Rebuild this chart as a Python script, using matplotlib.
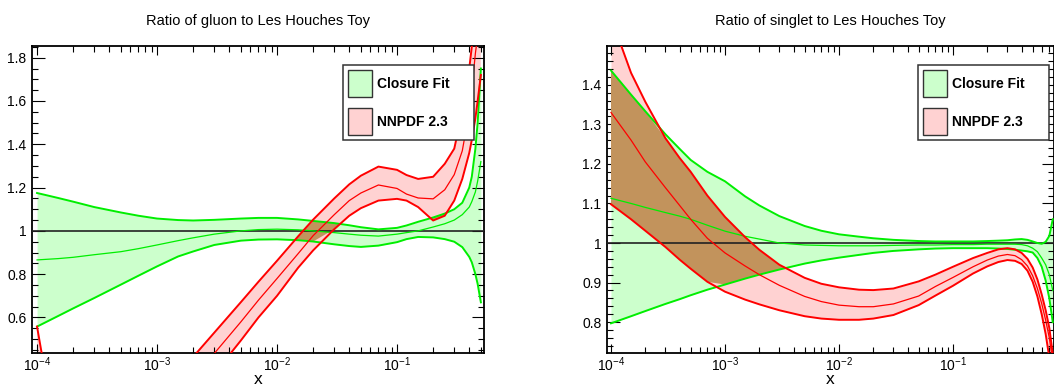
import numpy as np
import matplotlib.pyplot as plt
from matplotlib.patches import Patch
from matplotlib.ticker import MultipleLocator, FuncFormatter, LogLocator

plt.rcParams['font.family'] = ['Liberation Sans', 'DejaVu Sans']
plt.rcParams['mathtext.default'] = 'regular'

# ---- gluon panel data (ratio to Les Houches toy) ----
x_gluon = [1e-4, 1.5e-4, 2e-4, 3e-4, 5e-4, 7e-4, 1e-3, 1.5e-3, 2e-3, 3e-3, 5e-3, 7e-3,
           1e-2, 1.5e-2, 2e-2, 3e-2, 4e-2, 5e-2, 7e-2, 0.1, 0.12, 0.15, 0.2, 0.25, 0.3,
           0.35, 0.4, 0.42, 0.45, 0.47, 0.5]
gluon_fit_up = [1.175, 1.152, 1.135, 1.11, 1.085, 1.07, 1.057, 1.05, 1.048, 1.051, 1.057, 1.06,
                1.06, 1.053, 1.046, 1.036, 1.026, 1.017, 1.007, 1.014, 1.025, 1.042, 1.062, 1.08,
                1.10, 1.13, 1.20, 1.25, 1.38, 1.50, 1.75]
gluon_fit_cv = [0.866, 0.872, 0.878, 0.89, 0.904, 0.918, 0.935, 0.955, 0.968, 0.985, 1.0, 1.006,
                1.008, 1.005, 1.0, 0.992, 0.985, 0.98, 0.976, 0.985, 0.992, 1.0, 1.018, 1.033,
                1.05, 1.075, 1.11, 1.135, 1.18, 1.23, 1.32]
gluon_fit_dn = [0.558, 0.607, 0.642, 0.69, 0.752, 0.793, 0.836, 0.882, 0.905, 0.935, 0.955, 0.96,
                0.961, 0.957, 0.951, 0.938, 0.93, 0.926, 0.932, 0.948, 0.962, 0.972, 0.97, 0.962,
                0.95, 0.925, 0.88, 0.855, 0.80, 0.755, 0.67]
gluon_nn_up = [0.558, 0.0, -0.3, -0.3, -0.3, -0.2, 0.1, 0.3, 0.418, 0.53, 0.671, 0.765,
               0.862, 0.975, 1.052, 1.15, 1.215, 1.255, 1.297, 1.282, 1.258, 1.24, 1.25, 1.31,
               1.38, 1.55, 1.75, 1.85, 1.98, 2.1, 2.2]
gluon_nn_cv = [0.3, -0.1, -0.4, -0.4, -0.4, -0.3, 0.0, 0.2, 0.318, 0.434, 0.58, 0.68,
               0.78, 0.895, 0.978, 1.075, 1.14, 1.175, 1.212, 1.196, 1.17, 1.152, 1.148, 1.19,
               1.26, 1.37, 1.55, 1.65, 1.82, 1.9, 1.95]
gluon_nn_dn = [0.2, -0.2, -0.5, -0.5, -0.5, -0.4, -0.1, 0.1, 0.22, 0.34, 0.494, 0.6,
               0.70, 0.83, 0.91, 1.008, 1.07, 1.105, 1.14, 1.148, 1.14, 1.11, 1.048, 1.07,
               1.14, 1.24, 1.36, 1.42, 1.52, 1.6, 1.72]

# ---- singlet panel data ----
x_singlet = [1e-4, 1.5e-4, 2e-4, 3e-4, 4e-4, 5e-4, 7e-4, 1e-3, 1.5e-3, 2e-3, 3e-3, 5e-3,
             7e-3, 1e-2, 1.5e-2, 2e-2, 3e-2, 5e-2, 7e-2, 0.1, 0.15, 0.2, 0.25, 0.3, 0.35,
             0.4, 0.45, 0.5, 0.55, 0.6, 0.65, 0.7, 0.75]
singlet_fit_up = [1.436, 1.375, 1.333, 1.275, 1.238, 1.21, 1.18, 1.156, 1.118, 1.095, 1.068,
                  1.043, 1.031, 1.022, 1.016, 1.012, 1.008, 1.005, 1.004, 1.004, 1.004, 1.005,
                  1.006, 1.007, 1.009, 1.01, 1.008, 1.004, 1.0, 0.998, 1.003, 1.018, 1.06]
singlet_fit_cv = [1.113, 1.10, 1.09, 1.077, 1.068, 1.06, 1.045, 1.03, 1.017, 1.01, 1.0,
                  0.995, 0.994, 0.993, 0.993, 0.993, 0.994, 0.995, 0.995, 0.996, 0.996, 0.997,
                  0.997, 0.997, 0.997, 0.996, 0.993, 0.987, 0.978, 0.962, 0.945, 0.92, 0.88]
singlet_fit_dn = [0.797, 0.815, 0.828, 0.846, 0.858, 0.868, 0.882, 0.895, 0.91, 0.92, 0.933,
                  0.948, 0.956, 0.963, 0.97, 0.975, 0.98, 0.984, 0.986, 0.987, 0.987, 0.987,
                  0.986, 0.985, 0.983, 0.981, 0.979, 0.976, 0.962, 0.94, 0.905, 0.86, 0.80]
singlet_nn_up = [1.57, 1.43, 1.357, 1.265, 1.215, 1.18, 1.12, 1.066, 1.015, 0.983, 0.945,
                 0.912, 0.897, 0.888, 0.882, 0.881, 0.885, 0.903, 0.92, 0.94, 0.962, 0.975,
                 0.984, 0.987, 0.984, 0.975, 0.96, 0.938, 0.908, 0.87, 0.83, 0.785, 0.72]
singlet_nn_cv = [1.33, 1.26, 1.205, 1.14, 1.095, 1.06, 1.012, 0.975, 0.942, 0.92, 0.893,
                 0.865, 0.852, 0.843, 0.839, 0.839, 0.846, 0.866, 0.89, 0.913, 0.94, 0.957,
                 0.967, 0.971, 0.968, 0.958, 0.942, 0.917, 0.885, 0.847, 0.805, 0.76, 0.70]
singlet_nn_dn = [1.098, 1.06, 1.031, 0.99, 0.958, 0.935, 0.902, 0.877, 0.857, 0.845, 0.83,
                 0.815, 0.809, 0.806, 0.806, 0.809, 0.818, 0.843, 0.867, 0.892, 0.923, 0.941,
                 0.952, 0.957, 0.955, 0.947, 0.93, 0.902, 0.865, 0.82, 0.77, 0.71, 0.64]

titles = ['Ratio of gluon to Les Houches Toy', 'Ratio of singlet to Les Houches Toy']
labels = ['Closure Fit', 'NNPDF 2.3']

green, green_fill = '#00ee00', '#ccffcc'
red, red_fill = '#ff0000', '#ffd2d2'
both_fill = '#c2935c'

W, H = 1054, 388
fig = plt.figure(figsize=(W / 100, H / 100), dpi=100)


def axes_px(x0, y0, x1, y1):
    return fig.add_axes([x0 / W, 1 - y1 / H, (x1 - x0) / W, (y1 - y0) / H])


def band(ax, x, dn, cv, up, line, fill):
    ax.fill_between(x, dn, up, color=fill, lw=0, zorder=1)
    ax.plot(x, up, color=line, lw=1.4, zorder=4)
    ax.plot(x, dn, color=line, lw=1.4, zorder=4)
    ax.plot(x, cv, color=line, lw=0.9, zorder=4)


def panel(ax, x, fit, nn, title, xlim, ylim, ymaj, ymin, legx):
    x = np.array(x)
    fdn, fcv, fup = (np.array(v) for v in fit)
    ndn, ncv, nup = (np.array(v) for v in nn)
    band(ax, x, fdn, fcv, fup, green, green_fill)
    band(ax, x, ndn, ncv, nup, red, red_fill)
    # where the two bands overlap
    lo = np.maximum(fdn, ndn)
    hi = np.minimum(fup, nup)
    ax.fill_between(x, lo, hi, where=hi > lo, interpolate=True, color=both_fill, lw=0, zorder=2)
    ax.axhline(1, color='#222222', lw=1.2, zorder=3)

    ax.set_xscale('log')
    ax.set_xlim(*xlim)
    ax.set_ylim(*ylim)
    ax.xaxis.set_major_locator(LogLocator(base=10))
    ax.xaxis.set_minor_locator(LogLocator(base=10, subs=np.arange(2, 10)))
    ax.yaxis.set_major_locator(MultipleLocator(ymaj))
    ax.yaxis.set_minor_locator(MultipleLocator(ymin))
    ax.yaxis.set_major_formatter(FuncFormatter(lambda v, p: f'{v:g}'))
    ax.tick_params(which='both', direction='in', top=True, right=True, width=0.8,
                   labelsize=10, pad=4)
    ax.tick_params(axis='x', pad=1.5)
    ax.tick_params(axis='y', which='major', length=9)
    ax.tick_params(axis='y', which='minor', length=4.5)
    ax.tick_params(axis='x', which='major', length=6.5)
    ax.tick_params(axis='x', which='minor', length=4)
    for s in ax.spines.values():
        s.set_linewidth(1.3)

    ax.set_title(title, fontsize=10.5, pad=15)
    ax.set_xlabel('x', fontsize=12.5, va='bottom')
    ax.xaxis.set_label_coords(0.5, -34.5 / 307)

    handles = [Patch(facecolor=green_fill, edgecolor='#333333', lw=1.0, label=labels[0]),
               Patch(facecolor=red_fill, edgecolor='#333333', lw=1.0, label=labels[1])]
    leg = ax.legend(handles=handles, loc='upper left', mode='expand',
                    bbox_to_anchor=legx, borderaxespad=0, fancybox=False,
                    prop={'weight': 'bold', 'size': 10}, handlelength=1.72,
                    handleheight=2.6, labelspacing=0.8, borderpad=0.38,
                    handletextpad=0.35, framealpha=1)
    leg.get_frame().set_edgecolor('#333333')
    leg.get_frame().set_linewidth(1.1)
    leg.set_zorder(10)


ax1 = axes_px(32, 46, 484, 353)
ax2 = axes_px(607, 46, 1054, 353)

panel(ax1, x_gluon, (gluon_fit_dn, gluon_fit_cv, gluon_fit_up),
      (gluon_nn_dn, gluon_nn_cv, gluon_nn_up), titles[0],
      (10 ** -4.042, 10 ** -0.275), (0.436, 1.854), 0.2, 0.05,
      (0.688, 0.687, 0.29, 0.251))
panel(ax2, x_singlet, (singlet_fit_dn, singlet_fit_cv, singlet_fit_up),
      (singlet_nn_dn, singlet_nn_cv, singlet_nn_up), titles[1],
      (10 ** -4.035, 10 ** -0.114), (0.722, 1.498), 0.1, 0.02,
      (0.696, 0.687, 0.293, 0.251))

fig.savefig('out.png', dpi=100)
